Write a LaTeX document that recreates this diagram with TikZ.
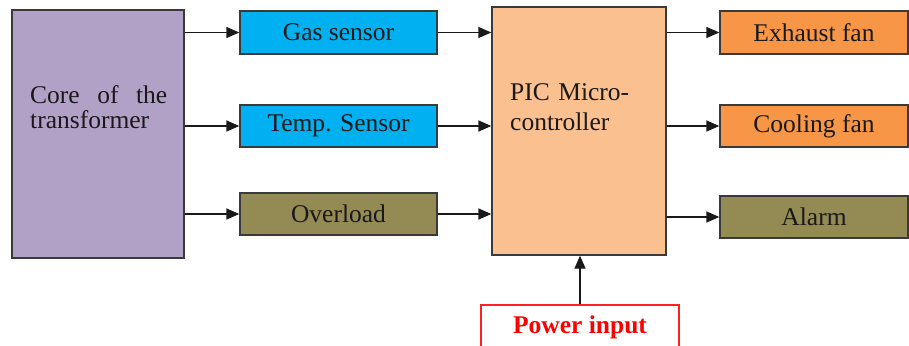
\documentclass[tikz,border=0pt]{standalone}
\usepackage{fontspec}
\setmainfont{Liberation Serif}
\usetikzlibrary{arrows.meta}
\definecolor{corecol}{HTML}{B2A1C7}
\definecolor{sensorcol}{HTML}{00B0F0}
\definecolor{olivecol}{HTML}{948A54}
\definecolor{piccol}{HTML}{FAC090}
\definecolor{fancol}{HTML}{F79646}
\definecolor{bordercol}{HTML}{3A3A3A}
\definecolor{powercol}{HTML}{FF2020}
\tikzset{
  blk/.style={draw=bordercol, line width=1.3pt, rectangle, inner sep=0pt, font=\fontsize{25.5}{27}\selectfont, text=black!90},
  conn/.style={line width=1.3pt, black!90, -{Triangle[length=13pt,width=11pt]}},
  lbl/.style={inner sep=0pt, font=\fontsize{25.5}{27}\selectfont, text=black!90},
}
\begin{document}
\begin{tikzpicture}[x=1pt,y=-1pt]
\useasboundingbox (0,0) rectangle (909,345);
% left block
\node[blk, fill=corecol, minimum width=172pt, minimum height=248pt] (core) at (98,134) {};
\node[lbl, anchor=north west, text width=138pt, align=left] (coretext) at (30,85)
  {\hbox to 137pt{Core\hfill of\hfill the}\\[-2pt]transformer};
% sensors
\node[blk, fill=sensorcol, minimum width=197pt, minimum height=43pt] (gas) at (338.5,32.5) {Gas sensor};
\node[blk, fill=sensorcol, minimum width=197pt, minimum height=42pt] (temp) at (338.5,126) {Temp. Sensor};
\node[blk, fill=olivecol, minimum width=197pt, minimum height=42pt] (over) at (338.5,214) {Overload};
% PIC
\node[blk, fill=piccol, minimum width=174pt, minimum height=248pt] (pic) at (579,131) {};
\node[lbl, anchor=north west, text width=140pt, align=left] (pictext) at (510,83)
  {PIC Micro-\\[3pt]controller};
% outputs
\node[blk, fill=fancol, minimum width=188pt, minimum height=43pt] (exh) at (814,32.5) {Exhaust fan};
\node[blk, fill=fancol, minimum width=188pt, minimum height=42pt] (cool) at (814,126) {Cooling fan};
\node[blk, fill=olivecol, minimum width=188pt, minimum height=42pt] (alarm) at (814,217) {Alarm};
% power
\node[draw=powercol, line width=1.3pt, fill=white, minimum width=198pt, minimum height=45pt, inner sep=0pt,
  font=\fontsize{25.5}{27}\selectfont\bfseries, text=red] (power) at (580,327.5) {Power input};
% connectors
\draw[conn] (core.east |- gas) -- (gas.west);
\draw[conn] (core.east |- temp) -- (temp.west);
\draw[conn] (core.east |- over) -- (over.west);
\draw[conn] (gas.east) -- (pic.west |- gas);
\draw[conn] (temp.east) -- (pic.west |- temp);
\draw[conn] (over.east) -- (pic.west |- over);
\draw[conn] (pic.east |- exh) -- (exh.west);
\draw[conn] (pic.east |- cool) -- (cool.west);
\draw[conn] (pic.east |- alarm) -- (alarm.west);
\draw[conn] (power.north) -- (power.north |- pic.south);
\end{tikzpicture}
\end{document}
